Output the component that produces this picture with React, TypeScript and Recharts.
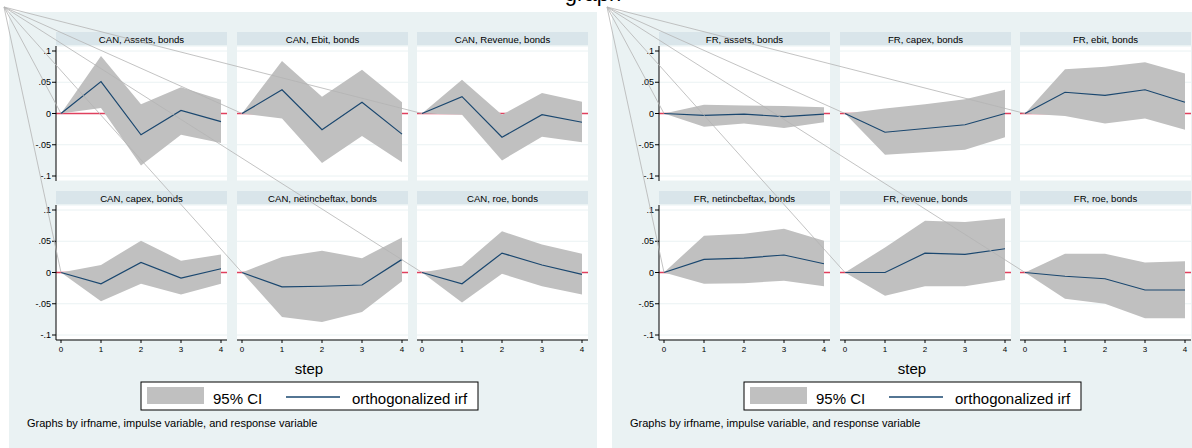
import React from "react";
import {
  ComposedChart,
  Area,
  Line,
  XAxis,
  YAxis,
  CartesianGrid,
} from "recharts";

const STEPS = [0, 1, 2, 3, 4];
const Y_TICKS = [-0.1, -0.05, 0, 0.05, 0.1];

const CAN_TITLES = [
  "CAN, Assets, bonds",
  "CAN, Ebit, bonds",
  "CAN, Revenue, bonds",
  "CAN, capex, bonds",
  "CAN, netincbeftax, bonds",
  "CAN, roe, bonds",
];
const CAN_IRF = [
  [0, 0.051, -0.034, 0.005, -0.013],
  [0, 0.038, -0.026, 0.018, -0.033],
  [0, 0.027, -0.038, -0.002, -0.014],
  [0, -0.018, 0.016, -0.009, 0.006],
  [0, -0.023, -0.022, -0.02, 0.021],
  [0, -0.018, 0.031, 0.012, -0.003],
];
const CAN_LOWER = [
  [0, 0.009, -0.083, -0.034, -0.047],
  [0, -0.008, -0.079, -0.036, -0.078],
  [0, -0.002, -0.075, -0.037, -0.046],
  [0, -0.046, -0.018, -0.035, -0.018],
  [0, -0.071, -0.079, -0.063, -0.014],
  [0, -0.048, -0.002, -0.022, -0.035],
];
const CAN_UPPER = [
  [0, 0.092, 0.015, 0.042, 0.022],
  [0, 0.084, 0.027, 0.07, 0.018],
  [0, 0.054, -0.002, 0.033, 0.019],
  [0, 0.012, 0.051, 0.019, 0.029],
  [0, 0.025, 0.035, 0.023, 0.056],
  [0, 0.011, 0.066, 0.045, 0.03],
];

const FR_TITLES = [
  "FR, assets, bonds",
  "FR, capex, bonds",
  "FR, ebit, bonds",
  "FR, netincbeftax, bonds",
  "FR, revenue, bonds",
  "FR, roe, bonds",
];
const FR_IRF = [
  [0, -0.003, -0.001, -0.005, -0.001],
  [0, -0.03, -0.024, -0.018, 0.0],
  [0, 0.034, 0.029, 0.038, 0.018],
  [0, 0.021, 0.023, 0.028, 0.014],
  [0, 0.0, 0.031, 0.029, 0.038],
  [0, -0.006, -0.01, -0.028, -0.028],
];
const FR_LOWER = [
  [0, -0.021, -0.016, -0.023, -0.014],
  [0, -0.066, -0.062, -0.058, -0.038],
  [0, -0.004, -0.016, -0.008, -0.026],
  [0, -0.018, -0.017, -0.013, -0.022],
  [0, -0.037, -0.022, -0.022, -0.012],
  [0, -0.042, -0.05, -0.073, -0.073],
];
const FR_UPPER = [
  [0, 0.014, 0.013, 0.012, 0.01],
  [0, 0.008, 0.015, 0.023, 0.038],
  [0, 0.071, 0.075, 0.082, 0.064],
  [0, 0.059, 0.062, 0.07, 0.051],
  [0, 0.04, 0.083, 0.081, 0.087],
  [0, 0.03, 0.03, 0.016, 0.018],
];

// layout (px)
const PANEL_LEFTS = [9, 612];
const PANEL_TOP = 12;
const PANEL_W = 588;
const COL_OFFSETS = [47, 228, 408];
const ROW_TOPS = [46, 205];
const PLOT_W = 171;
const PLOT_H = 135;
const X_DOMAIN = [-0.125, 4.15];
const Y_DOMAIN = [-0.108, 0.108];

const BG = "#EAF2F3";
const STRIP = "#D9E5EA";
const CI_FILL = "#C0C0C0";
const NAVY = "#1A476F";
const ZERO_RED = "#E0405E";
const FONT = "'Liberation Sans', Arial, sans-serif";

const fmtY = (v: number) => (v === 0 ? "0" : String(v).replace(/^(-?)0\./, "$1."));

// where y = 0 lands inside a chart (top margin is 0)
const ZERO_Y = ((Y_DOMAIN[1] - 0) / (Y_DOMAIN[1] - Y_DOMAIN[0])) * PLOT_H;

// pixel position of the (0, 0) point of a subplot, same linear scale as the chart
const originOf = (panelLeft: number, idx: number) => {
  const row = Math.floor(idx / 3);
  const col = idx % 3;
  const x = panelLeft + COL_OFFSETS[col] + ((0 - X_DOMAIN[0]) / (X_DOMAIN[1] - X_DOMAIN[0])) * PLOT_W;
  const y = ROW_TOPS[row] + ZERO_Y;
  return { x, y };
};

// grid lines; the one at y = 0 is the red reference line, kept under the CI band
const gridLine = (props: any) => {
  const zero = Math.abs(props.y1 - ZERO_Y) < 1;
  return (
    <line
      key={"h-" + props.index}
      x1={props.x1}
      y1={props.y1}
      x2={props.x2}
      y2={props.y2}
      stroke={zero ? ZERO_RED : BG}
      strokeWidth={zero ? 1.3 : 1}
    />
  );
};

type SubProps = {
  panelLeft: number;
  idx: number;
  irf: number[];
  lo: number[];
  hi: number[];
};

function Subplot({ panelLeft, idx, irf, lo, hi }: SubProps) {
  const row = Math.floor(idx / 3);
  const col = idx % 3;
  const yw = col === 0 ? 40 : 0;
  const xh = row === 1 ? 22 : 0;
  const data = STEPS.map((s, i) => ({ step: s, irf: irf[i], ci: [lo[i], hi[i]] }));
  return (
    <div
      style={{
        position: "absolute",
        left: panelLeft + COL_OFFSETS[col] - yw,
        top: ROW_TOPS[row],
      }}
    >
      <ComposedChart
        width={PLOT_W + yw}
        height={PLOT_H + xh}
        data={data}
        margin={{ top: 0, right: 0, bottom: 0, left: 0 }}
      >
        <CartesianGrid
          horizontal={gridLine}
          vertical={false}
          stroke={BG}
          fill="#ffffff"
          fillOpacity={1}
        />
        <XAxis
          dataKey="step"
          type="number"
          domain={X_DOMAIN}
          ticks={STEPS}
          interval={0}
          allowDataOverflow
          hide={row === 0}
          height={xh}
          axisLine={{ stroke: "#000" }}
          tickLine={{ stroke: "#000" }}
          tickSize={3}
          tickMargin={3}
          tick={{ fontSize: 8, fill: "#000" }}
        />
        <YAxis
          type="number"
          domain={Y_DOMAIN}
          ticks={Y_TICKS}
          interval={0}
          allowDataOverflow
          hide={col !== 0}
          width={yw}
          axisLine={{ stroke: "#000" }}
          tickLine={{ stroke: "#000" }}
          tickSize={4}
          tickMargin={1}
          tick={{ fontSize: 9, fill: "#000" }}
          tickFormatter={fmtY}
        />
        <Area
          dataKey="ci"
          type="linear"
          stroke="none"
          fill={CI_FILL}
          fillOpacity={1}
          dot={false}
          activeDot={false}
          isAnimationActive={false}
        />
        <Line
          dataKey="irf"
          type="linear"
          stroke={NAVY}
          strokeWidth={1.2}
          dot={false}
          activeDot={false}
          isAnimationActive={false}
        />
      </ComposedChart>
    </div>
  );
}

function PanelBackground({ left, titles }: { left: number; titles: string[] }) {
  return (
    <g>
      <rect x={left} y={PANEL_TOP} width={PANEL_W} height={448 - PANEL_TOP} fill={BG} />
      {titles.map((t, i) => {
        const row = Math.floor(i / 3);
        const col = i % 3;
        const x = left + COL_OFFSETS[col];
        const y = ROW_TOPS[row] - 14;
        return (
          <g key={t}>
            <rect x={x} y={y} width={PLOT_W} height={13} fill={STRIP} />
            <text x={x + PLOT_W / 2} y={y + 10.7} fontSize={9.6} textAnchor="middle" fill="#000">
              {t}
            </text>
          </g>
        );
      })}
      <text x={left + 300} y={374} fontSize={15} textAnchor="middle" fill="#000">
        step
      </text>
      <rect x={left + 132} y={382} width={337} height={28} fill="#fff" stroke="#000" strokeWidth={1} />
      <rect x={left + 138} y={387} width={57} height={17} fill={CI_FILL} />
      <text x={left + 204} y={404} fontSize={15} fill="#000">
        95% CI
      </text>
      <line x1={left + 277} x2={left + 331} y1={397} y2={397} stroke={NAVY} strokeWidth={1.3} />
      <text x={left + 343} y={404} fontSize={15} fill="#000">
        orthogonalized irf
      </text>
      <text x={left + 18} y={427} fontSize={11} fill="#000">
        Graphs by irfname, impulse variable, and response variable
      </text>
    </g>
  );
}

export default function App() {
  const panels = [
    { left: PANEL_LEFTS[0], titles: CAN_TITLES, irf: CAN_IRF, lo: CAN_LOWER, hi: CAN_UPPER },
    { left: PANEL_LEFTS[1], titles: FR_TITLES, irf: FR_IRF, lo: FR_LOWER, hi: FR_UPPER },
  ];
  return (
    <div
      style={{
        position: "absolute",
        left: 0,
        top: 0,
        width: 1192,
        height: 448,
        overflow: "hidden",
        background: "#fff",
        fontFamily: FONT,
      }}
    >
      <svg width={1192} height={448} style={{ position: "absolute", left: 0, top: 0 }}>
        {panels.map((p) => (
          <PanelBackground key={p.left} left={p.left} titles={p.titles} />
        ))}
        <text x={593} y={1} fontSize={22} textAnchor="middle" fill="#000">
          graph
        </text>
      </svg>

      {panels.map((p) =>
        p.titles.map((t, i) => (
          <Subplot key={t} panelLeft={p.left} idx={i} irf={p.irf[i]} lo={p.lo[i]} hi={p.hi[i]} />
        ))
      )}

      <svg
        width={1192}
        height={448}
        style={{ position: "absolute", left: 0, top: 0, pointerEvents: "none" }}
      >
        {panels.map((p) =>
          p.titles.map((t, i) => {
            const o = originOf(p.left, i);
            return (
              <line
                key={"fan-" + t}
                x1={p.left - 5}
                y1={7}
                x2={o.x}
                y2={o.y}
                stroke="#B4B4B4"
                strokeWidth={0.8}
              />
            );
          })
        )}
      </svg>
    </div>
  );
}
